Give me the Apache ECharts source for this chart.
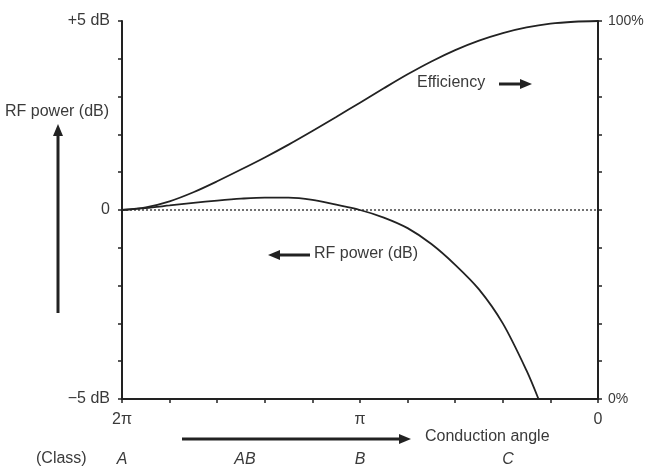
<!DOCTYPE html>
<html>
<head>
<meta charset="utf-8">
<script src="https://cdn.jsdelivr.net/npm/echarts@6/dist/echarts.min.js"></script>
<style>
html,body{margin:0;padding:0;background:#fff;}
#chart{width:646px;height:468px;}
</style>
</head>
<body>
<div id="chart"></div>
<script>
// Conduction angle in degrees (360 = 2π on the left, 0 on the right)
const effAngles = [360, 342, 324, 306, 288, 270, 252, 234, 216, 198, 180, 162, 144, 126, 108, 90, 72, 54, 36, 18, 0];
const effValues = [50, 50.7, 52.3, 54.7, 57.6, 60.7, 63.9, 67.3, 70.9, 74.6, 78.4, 82.2, 85.9, 89.3, 92.3, 94.8, 96.8, 98.3, 99.3, 99.8, 100];

const rfAngles = [360, 342, 324, 306, 288, 270, 252, 234, 216, 198, 180, 162, 144, 126, 108, 90, 72, 54, 45];
const rfValues = [0, 0.05, 0.12, 0.19, 0.25, 0.30, 0.33, 0.33, 0.27, 0.14, 0, -0.2, -0.48, -0.9, -1.45, -2.1, -3.0, -4.25, -5.0];

const xTickLabels = {360: '2\u03c0', 180: '\u03c0', 0: '0'};
const leftTickLabels = {5: '+5 dB', 0: '0', '-5': '\u22125 dB'};
const rightTickLabels = {100: '100%', 0: '0%'};

const classNames = ['A', 'AB', 'B', 'C'];
const classAngles = [360, 267, 180, 68];

const FONT = '"Liberation Sans", Arial, sans-serif';
const TXT = '#3a3a3a';
const FS = 16;

const chart = echarts.init(document.getElementById('chart'), null, {renderer: 'canvas'});

const gridLeft = 122, gridRight = 598, gridTop = 21, gridBottom = 399;
function angleToX(a) { return gridLeft + (360 - a) / 360 * (gridRight - gridLeft); }

function arrow(x1, y1, x2, y2) {
  const dx = x2 - x1, dy = y2 - y1, len = Math.sqrt(dx*dx + dy*dy);
  const ux = dx/len, uy = dy/len, hl = 12, hw = 5;
  const bx = x2 - ux*hl, by = y2 - uy*hl;
  return [
    {type: 'line', shape: {x1: x1, y1: y1, x2: bx + ux*2, y2: by + uy*2}, style: {stroke: '#222', lineWidth: 3}},
    {type: 'polygon', shape: {points: [[x2, y2], [bx - uy*hw, by + ux*hw], [bx + uy*hw, by - ux*hw]]}, style: {fill: '#222'}}
  ];
}

const graphics = [].concat(
  arrow(58, 313, 58, 124),
  arrow(182, 439, 411, 439),
  arrow(499, 84, 532, 84),
  arrow(310, 255, 268, 255),
  [
    {type: 'text', left: 5, top: 104, style: {text: 'RF power (dB)', font: FS + 'px ' + FONT, fill: TXT}},
    {type: 'text', left: 425, top: 429, style: {text: 'Conduction angle', font: FS + 'px ' + FONT, fill: TXT}},
    {type: 'text', left: 417, top: 75, style: {text: 'Efficiency', font: FS + 'px ' + FONT, fill: TXT}},
    {type: 'text', left: 314, top: 246, style: {text: 'RF power (dB)', font: FS + 'px ' + FONT, fill: TXT}},
    {type: 'text', left: 36, top: 451, style: {text: '(Class)', font: FS + 'px ' + FONT, fill: TXT}}
  ],
  classNames.map((c, i) => ({
    type: 'text', x: angleToX(classAngles[i]), y: 460,
    style: {text: c, font: 'italic ' + FS + 'px ' + FONT, fill: TXT, textAlign: 'center', textVerticalAlign: 'middle'}
  }))
);

const axisLineStyle = {color: '#222', width: 2};
const tickStyle = {show: true, length: 4, lineStyle: {color: '#222', width: 1.5}};

const option = {
  backgroundColor: '#fff',
  animation: false,
  grid: {left: gridLeft, right: 646 - gridRight, top: gridTop, bottom: 468 - gridBottom,
         containLabel: false, outerBoundsMode: 'none'},
  xAxis: {
    type: 'value', min: 0, max: 360, interval: 36, inverse: true,
    axisLine: {onZero: false, lineStyle: axisLineStyle},
    axisTick: tickStyle,
    splitLine: {show: false},
    axisLabel: {
      margin: 13, fontSize: FS, fontFamily: FONT, color: TXT, showMinLabel: true, showMaxLabel: true,
      formatter: v => xTickLabels[v] !== undefined ? xTickLabels[v] : ''
    }
  },
  yAxis: [
    {
      type: 'value', min: -5, max: 5, interval: 1, position: 'left',
      axisLine: {show: true, onZero: false, lineStyle: axisLineStyle},
      axisTick: tickStyle,
      splitLine: {show: false},
      axisLabel: {
        margin: 12, fontSize: FS, fontFamily: FONT, color: TXT,
        formatter: v => leftTickLabels[v] !== undefined ? leftTickLabels[v] : ''
      }
    },
    {
      type: 'value', min: 0, max: 100, interval: 10, position: 'right',
      axisLine: {show: true, onZero: false, lineStyle: axisLineStyle},
      axisTick: tickStyle,
      splitLine: {show: false},
      axisLabel: {
        margin: 10, fontSize: 14, fontFamily: FONT, color: TXT,
        formatter: v => rightTickLabels[v] !== undefined ? rightTickLabels[v] : ''
      }
    }
  ],
  series: [
    {
      name: 'Zero', type: 'line', yAxisIndex: 0, symbol: 'none', silent: true,
      data: [[360, 0], [0, 0]],
      lineStyle: {color: '#444', width: 1.5, type: [2, 2]}
    },
    {
      name: 'Efficiency', type: 'line', yAxisIndex: 1, symbol: 'none', smooth: 0.3,
      data: effAngles.map((a, i) => [a, effValues[i]]),
      lineStyle: {color: '#222', width: 1.8}
    },
    {
      name: 'RF power (dB)', type: 'line', yAxisIndex: 0, symbol: 'none', smooth: 0.3,
      data: rfAngles.map((a, i) => [a, rfValues[i]]),
      lineStyle: {color: '#222', width: 1.8}
    }
  ],
  graphic: graphics
};

chart.setOption(option);
</script>
</body>
</html>
